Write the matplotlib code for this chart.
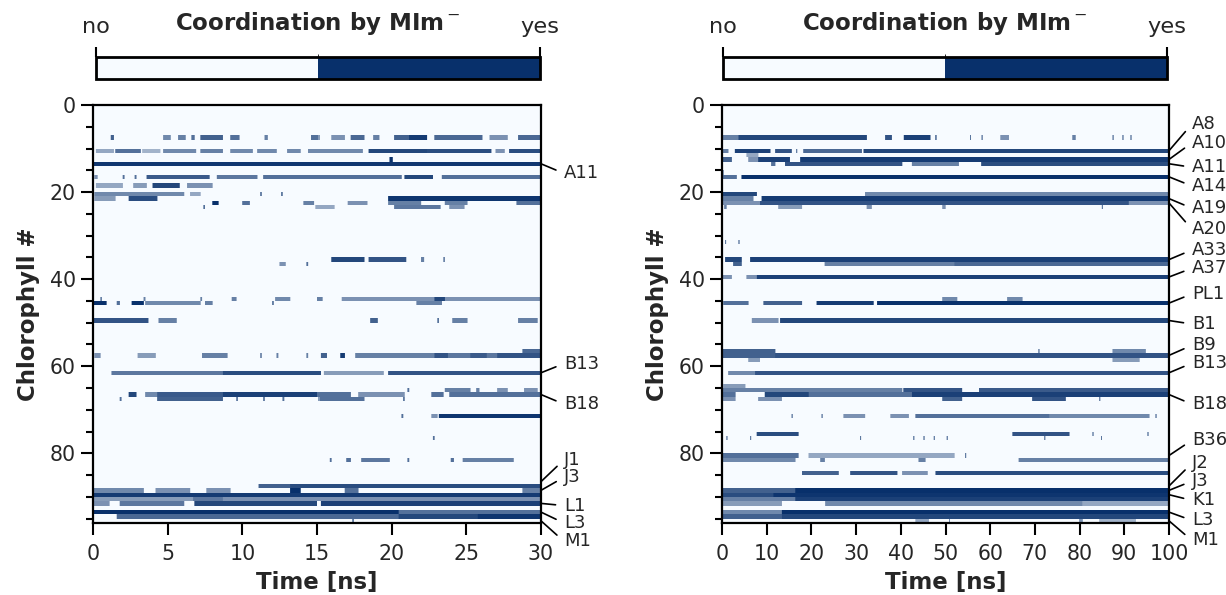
import numpy as np
import matplotlib
matplotlib.use('Agg')
import matplotlib.pyplot as plt
from matplotlib.colors import LinearSegmentedColormap, ListedColormap, BoundaryNorm, PowerNorm
from matplotlib.cm import ScalarMappable

n_chl = 96
light, dark = '#f7fbff', '#08306b'

# coordination: row -> [(t_start, t_end, fraction of frames coordinated)]
short_rows = {
    7: [(1.2, 1.4, .6), (4.7, 5.2, .35), (5.7, 6.2, .4), (6.6, 6.8, .5), (7.2, 8.7, .6), (9.2, 9.8, .5),
        (11.5, 11.7, .4), (14.6, 15.1, .5), (15.9, 16.8, .3), (17.2, 18.1, .55), (18.7, 19.1, .4),
        (20.1, 21.1, .6), (21.1, 22.3, .9), (22.8, 26.0, .55), (26.5, 27.7, .3), (28.4, 30, .55)],
    10: [(0.2, 1.4, .2), (1.5, 3.2, .5), (3.3, 4.5, .15), (4.7, 6.9, .35), (7.2, 8.7, .4), (9.2, 10.7, .35),
         (11, 12.3, .35), (13, 13.9, .35), (14.4, 18, .35), (18.4, 22.3, .8), (22.3, 26.6, .75),
         (26.9, 27.5, .3), (27.8, 30, .75)],
    12: [(19.8, 20.0, 1)],
    13: [(0, 30, .93)],
    16: [(0.1, 0.3, .3), (2, 2.1, .5), (2.8, 2.9, .5), (3.6, 7.8, .65), (8.3, 11, .45), (11.4, 20.6, .5),
         (20.8, 22.7, .8), (23.3, 30, .5)],
    18: [(0.2, 2, .2), (2.7, 3.6, .25), (4.0, 5.8, .8), (6.3, 8.0, .3)],
    20: [(0.1, 6.1, .35), (6.5, 7.2, .2), (11.2, 11.3, .5), (12.6, 12.7, .5)],
    21: [(0.1, 1.5, .25), (2.4, 4.3, .75), (19.7, 30, .95)],
    22: [(8.0, 8.4, 1), (10, 10.5, .5), (14.1, 14.8, .4), (17, 18.3, .3), (19.7, 21.9, .4), (23.5, 25, .4),
         (28.3, 30, .5)],
    23: [(7.4, 7.5, .5), (14.9, 16.1, .2), (20.1, 23.2, .45), (23.8, 24.8, .3)],
    35: [(15.9, 18.1, .8), (18.4, 20.9, .7), (21.9, 22.1, .4), (23.4, 23.5, .4)],
    36: [(12.5, 12.9, .3), (14.3, 14.4, .5)],
    44: [(0.5, 0.6, .4), (3.4, 3.5, .4), (7.2, 7.3, .4), (9.3, 9.6, .4), (12.2, 13.2, .35), (15, 15.3, .4),
         (16.6, 22.8, .3), (22.8, 23.5, .8), (23.5, 30, .3)],
    45: [(0, 0.9, 1), (1.6, 1.8, .5), (2.6, 3.4, 1), (3.5, 7.2, .35), (7.5, 8, .4), (12, 12.1, .5),
         (21.6, 23.3, .4)],
    49: [(0, 3.7, .7), (4.4, 5.6, .4), (18.5, 19, .6), (23, 23.1, .5), (24, 25, .4), (28.4, 29.7, .4)],
    56: [(28.7, 30, .55)],
    57: [(0.1, 0.5, .3), (3, 4.2, .25), (7.3, 9, .4), (11.2, 11.3, .4), (12.3, 12.4, .4), (14.3, 14.4, .4),
         (15.2, 15.6, .6), (16.5, 16.8, .9), (17.5, 22.8, .4), (22.8, 23.7, .7), (23.7, 25.2, .45),
         (25.2, 26.3, .65), (26.3, 27, .45), (27, 30, .7)],
    61: [(1.25, 8.7, .45), (8.7, 15.2, .75), (15.4, 19.4, .25), (19.7, 30, .7)],
    65: [(21, 21.1, .5), (23.5, 25.2, .4), (25.6, 25.8, .4), (27, 27.7, .3), (28.8, 29.7, .3)],
    66: [(2.4, 2.9, .8), (3.5, 4.3, .35), (4.3, 8.7, .65), (8.7, 15, .85), (15, 17.2, .5), (17.7, 20.8, .3),
         (22.6, 23.4, .5), (23.8, 30, .5)],
    67: [(1.8, 1.9, .5), (4.3, 8.7, .6), (9.6, 9.7, .5), (11.4, 11.5, .5), (12.7, 12.8, .5), (15.1, 18.1, .5),
         (20.7, 20.8, .5)],
    71: [(20.6, 20.7, .5), (22.6, 23, .3), (23.1, 30, .95)],
    76: [(22.7, 22.8, .5)],
    81: [(15.8, 15.9, .5), (16.9, 17.2, .5), (17.9, 19.8, .45), (21, 21.1, .5), (23.9, 24.1, .5),
         (24.7, 28.1, .4)],
    87: [(11.1, 13.2, .6), (13.2, 30, .75)],
    88: [(0, 3.4, .35), (4.2, 6.5, .3), (7.6, 9.2, .3), (13.2, 13.9, 1), (16.8, 17.7, .5), (28.7, 30, .4)],
    89: [(0, 30, .9)],
    90: [(0, 6.7, .25), (6.7, 8.7, .45), (8.7, 30, .3)],
    91: [(0, 1.1, .3), (1.8, 6.1, .45), (6.8, 15, .8), (15.2, 30, .85)],
    93: [(0, 20.4, 1), (20.4, 30, .5)],
    94: [(1.6, 20.4, .55), (20.4, 25.7, .8), (25.7, 30, .95)],
    95: [(17.3, 17.4, .5)],
}

long_rows = {
    7: [(0, 3.7, .4), (3.7, 32.4, .8), (36.5, 38, .7), (40.7, 46.6, .85), (47.7, 48, .5), (55.5, 55.7, .5),
        (58.1, 58.3, .5), (62.3, 64.2, .3), (78.4, 79.1, .4), (87.4, 87.6, .5), (89.6, 89.8, .5),
        (91.4, 91.6, .5)],
    10: [(0, 1.4, .4), (2.9, 10.8, .85), (11.9, 15.6, .7), (16.6, 16.8, .5), (18.2, 31.3, .55), (31.7, 100, .8)],
    11: [(5.5, 8.1, .2)],
    12: [(0, 2.2, .6), (5.9, 8.1, .3), (8.1, 15.2, .85), (17.5, 100, .9)],
    13: [(11, 11.9, .5), (14.1, 40.3, .7), (42.5, 53, .4), (58, 100, .75)],
    15: [(0, 0.4, .3)],
    16: [(0, 3.3, .5), (4.4, 100, 1)],
    20: [(0, 7.8, .8), (32, 100, .35)],
    21: [(0, 7, .4), (8.9, 100, .9)],
    22: [(0, 8.5, .3), (8.5, 91, .7), (91, 100, .3)],
    23: [(0.5, 1, .4), (12.6, 17.9, .25), (32.4, 33.5, .3), (49.3, 50, .3), (85, 85.2, .5)],
    31: [(0.7, 0.9, .5), (3.7, 3.9, .5)],
    35: [(0.7, 4.4, .8), (6.3, 100, .85)],
    36: [(2.5, 4.4, .6), (23, 52, .4), (52, 100, .55)],
    39: [(0, 2.2, .3), (5.5, 7.8, .3), (7.8, 100, .85)],
    44: [(49.3, 52.6, .35), (63.8, 67.2, .35)],
    45: [(0.3, 5.9, .5), (9.3, 17.9, .6), (21.2, 33.9, .9), (34.7, 100, 1)],
    49: [(6.7, 12.6, .3), (13, 100, .8)],
    56: [(0, 11.9, .6), (70.8, 71, .5), (87.4, 94.8, .35)],
    57: [(0, 11.9, .6), (11.9, 100, .7)],
    58: [(5.9, 8.5, .25), (87.4, 93.4, .25)],
    61: [(1.4, 7.4, .35), (7.4, 100, .7)],
    64: [(0.3, 5.2, .25)],
    65: [(0, 40.3, .4), (40.6, 53.7, .7), (57.5, 100, .65)],
    66: [(0, 3, .5), (9.6, 19.4, .8), (19.4, 42.5, .5), (42.5, 100, .85)],
    67: [(0, 3, .3), (8.1, 13.4, .3), (49.3, 53.7, .6), (69.4, 76.9, .7), (84.4, 84.6, .5)],
    71: [(15.6, 15.8, .5), (22.3, 22.5, .5), (27.2, 32, .3), (37.7, 41.8, .3), (43.3, 73.2, .5),
         (73.2, 95.6, .35), (97, 97.2, .5)],
    75: [(7.8, 17.1, .75), (65, 77.7, .7), (82.9, 83.1, .5), (95.2, 95.4, .5)],
    76: [(1, 1.2, .5), (6.3, 6.5, .5), (30.9, 31.1, .5), (42.8, 43, .5), (45.1, 45.3, .5), (47.4, 47.6, .5),
         (50.3, 50.5, .5), (72.1, 72.3, .5), (84.8, 85, .5)],
    80: [(0, 17.1, .5), (19.4, 52, .2), (54.4, 54.6, .5)],
    81: [(0, 16.4, .35), (22, 23, .4), (44, 45.5, .4), (66.4, 100, .4)],
    84: [(17.9, 26.1, .6), (28.7, 39.2, .7), (40.3, 46, .3), (47.8, 100, .75)],
    88: [(0, 16.4, .6), (16.4, 100, 1)],
    89: [(0, 11.5, .75), (11.5, 100, .95)],
    90: [(0, 16.4, .4), (16.4, 100, .85)],
    91: [(0, 13.4, .25), (23.1, 80.6, .35), (80.6, 100, .2)],
    93: [(0, 13.4, .35), (13.4, 100, 1)],
    94: [(0, 13.4, .6), (13.4, 100, .8)],
    95: [(43.3, 46.3, .2), (50.8, 51, .4), (79.9, 80.7, .3), (84.4, 92.6, .15)],
}

short_labels = ['A11', 'B13', 'B18', 'J1', 'J3', 'L1', 'L3', 'M1']
short_label_rows = [13, 61, 66, 86, 88, 91, 93, 95]
short_text_y = [15.7, 59.4, 68.7, 81.5, 85.5, 92.0, 96.0, 100.2]

long_labels = ['A8', 'A10', 'A11', 'A14', 'A19', 'A20', 'A33', 'A37', 'PL1', 'B1', 'B9', 'B13', 'B18',
               'B36', 'J2', 'J3', 'K1', 'L3', 'M1']
long_label_rows = [10, 12, 13, 16, 21, 22, 35, 39, 45, 49, 57, 61, 66, 80, 87, 88, 89, 93, 95]
long_text_y = [4.4, 8.7, 14.3, 18.6, 23.7, 28.5, 33.3, 37.5, 43.4, 50.3, 55.2, 59.3, 68.7, 77.0, 82.3,
               86.4, 90.8, 95.4, 100.0]


def build(rows, t_end, ncol):
    dt = t_end / ncol
    edges = np.arange(ncol + 1) * dt
    m = np.zeros((n_chl, ncol))
    for r, segs in rows.items():
        for t0, t1, v in segs:
            ov = np.clip(np.minimum(edges[1:], t1) - np.maximum(edges[:-1], t0), 0, None) / dt
            m[r] += v * ov
    return np.clip(m, 0, 1)


W, H = 1226, 595


def box(x0, y0, x1, y1):
    return [x0 / W, 1 - y1 / H, (x1 - x0) / W, (y1 - y0) / H]


txt = '.15'
fig = plt.figure(figsize=(W / 100, H / 100), dpi=100)
img_cmap = LinearSegmentedColormap.from_list('coord', [light, dark])
bar_cmap = ListedColormap([light, dark])

panels = [
    (short_rows, 30, 5, short_labels, short_label_rows, short_text_y, (93, 105, 541, 523), (96, 57, 540, 79)),
    (long_rows, 100, 10, long_labels, long_label_rows, long_text_y, (722, 105, 1169, 523), (723, 57, 1167, 79)),
]

for rows, t_end, xstep, labels, lrows, ty, abox, cbox in panels:
    ax = fig.add_axes(box(*abox))
    m = build(rows, t_end, int(abox[2] - abox[0]))
    # speckled rows read darker than their time-average, so lift partial values
    ax.imshow(m, cmap=img_cmap, norm=PowerNorm(0.55, vmin=0, vmax=1), aspect='auto',
              extent=(0, t_end, n_chl, 0), interpolation='nearest')
    ax.set_xlim(0, t_end)
    ax.set_ylim(n_chl, 0)
    ax.set_xticks(np.arange(0, t_end + 0.1, xstep))
    ax.set_yticks(np.arange(0, 81, 20))
    ax.set_yticks(np.arange(0, 96, 5), minor=True)
    ax.tick_params(which='major', length=8.5, width=1.5, labelsize=14.8, colors='k', labelcolor=txt, pad=4)
    ax.tick_params(axis='x', which='major', pad=6.5)
    ax.tick_params(which='minor', length=5.3, width=1.5, colors='k')
    for s in ax.spines.values():
        s.set_linewidth(1.6)
    ax.set_xlabel('Time [ns]', fontsize=16.5, fontweight='bold', color=txt, labelpad=5)
    ax.set_ylabel('Chlorophyll #', fontsize=16.5, fontweight='bold', color=txt, labelpad=7)

    for name, r, y in zip(labels, lrows, ty):
        ax.annotate(name, xy=(1, r + 0.5), xycoords=('axes fraction', 'data'),
                    xytext=(1.051, y), textcoords=('axes fraction', 'data'),
                    ha='left', va='center', fontsize=13, color=txt, annotation_clip=False,
                    arrowprops=dict(arrowstyle='-', color='k', lw=1.2, shrinkA=4, shrinkB=0,
                                    relpos=(0, 0.5)))

    cax = fig.add_axes(box(*cbox))
    sm = ScalarMappable(norm=BoundaryNorm([0, 0.5, 1], 2), cmap=bar_cmap)
    cb = fig.colorbar(sm, cax=cax, orientation='horizontal', ticks=[0, 1])
    cax.xaxis.set_ticks_position('top')
    cb.set_ticklabels(['no', 'yes'])
    cax.tick_params(length=7, width=1.5, labelsize=16.2, labelcolor=txt, pad=7.5)
    cb.outline.set_linewidth(2)
    cax.annotate('Coordination by MIm$^-$', xy=(0.5, 1), xycoords='axes fraction',
                 xytext=(0, 19.5), textcoords='offset points', ha='center', va='baseline',
                 fontsize=16.5, fontweight='bold', color=txt)

fig.savefig('out.png', dpi=100)
